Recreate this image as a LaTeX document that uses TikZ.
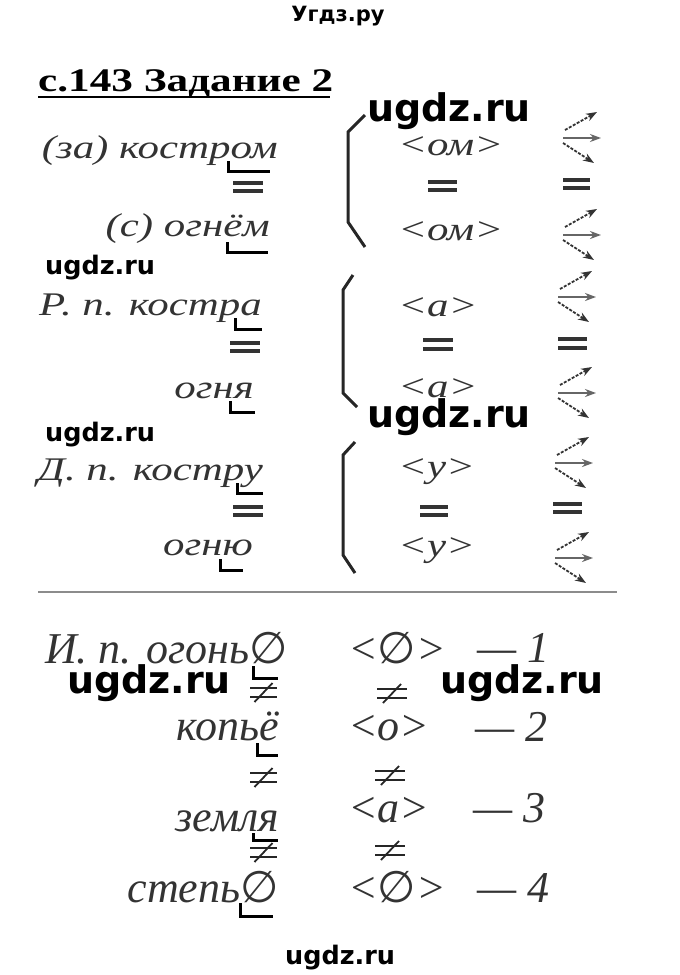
\documentclass[tikz,border=0pt]{standalone}
\usepackage{fontspec}
\usetikzlibrary{arrows.meta}
\newfontfamily\hdrfont[FakeStretch=1.31]{Liberation Serif}
\newfontfamily\upfont[FakeStretch=1.3]{Liberation Serif}
\newfontfamily\lowfont{Liberation Serif}
\newfontfamily\wmfont{DejaVu Sans}
\newfontfamily\symfont{DejaVu Sans}
\definecolor{ink}{gray}{0.2}
\tikzset{
  wm/.style={font=\wmfont\bfseries\fontsize{38}{40}\selectfont, inner sep=0, anchor=base west, text=black},
  wms/.style={font=\wmfont\bfseries\fontsize{25.5}{27}\selectfont, inner sep=0, anchor=base west, text=black},
  up/.style={font=\upfont\itshape\fontsize{33}{36}\selectfont, text=ink, inner sep=0},
  low/.style={font=\lowfont\itshape\fontsize{44}{48}\selectfont, text=ink, inner sep=0},
  endmark/.style={line width=3pt, black},
  brace/.style={line width=3pt, black!85, line join=miter},
  eqbar/.style={line width=3.5pt, black!80},
  neqbar/.style={line width=2.8pt, black!85},
  fan/.style={line width=1.8pt, black!80, -{Stealth[length=11pt,width=8pt]}},
  fand/.style={fan, dash pattern=on 3pt off 1.5pt},
}
\newcommand\eqmark[4]{\draw[eqbar] (#1,#3) -- (#2,#3) (#1,#4) -- (#2,#4);}
\newcommand\neqmark[4]{\draw[neqbar] (#1,#3) -- (#2,#3) (#1,#4) -- (#2,#4);
  \draw[neqbar, line width=1.8pt] ({(#1+#2)/2+9},{#3-5}) -- ({(#1+#2)/2-9},{#4+5});}
\newcommand\fanmark[2]{%
  \draw[fand] ({#1+2},{#2-8}) -- ({#1+34},{#2-26});
  \draw[fan, black!60] (#1,#2) -- ({#1+38},#2);
  \draw[fand] (#1,{#2+5}) -- ({#1+31},{#2+25});}
\begin{document}
\begin{tikzpicture}[x=1pt,y=-1pt]
\useasboundingbox[fill=white] (0,0) rectangle (680,975);

% header
\node[font=\hdrfont\bfseries\fontsize{33}{36}\selectfont, inner sep=0, anchor=base west] (hdr) at (38,91) {с.143 Задание 2};
\draw[line width=2.5pt] (38,97) -- (330,97);

% group 1
\node[up, anchor=base east] (w1) at (278,158) {(за) костром};
\draw[endmark] (228,161) -- (228,171) -- (270,171);
\eqmark{233}{263}{183}{191}
\node[up, anchor=base east] (w2) at (270,236) {(с) огнём};
\draw[endmark] (227,242) -- (227,252) -- (268,252);
\draw[brace] (365,115) -- (348,132) -- (348,222) -- (365,247);
\node[up, anchor=base west] (e1) at (398,155) {<ом>};
\eqmark{428}{457}{182}{190}
\node[up, anchor=base west] (e2) at (398,240) {<ом>};
\fanmark{563}{138}
\eqmark{563}{590}{180}{188}
\fanmark{563}{235}

% group 2
\node[up, anchor=base east] (w3) at (262,315) {Р. п. костра};
\draw[endmark] (235,318) -- (235,329) -- (262,329);
\eqmark{230}{260}{343}{351}
\node[up, anchor=base east] (w4) at (254,398) {огня};
\draw[endmark] (230,401) -- (230,412) -- (255,412);
\draw[brace] (353,275) -- (343,290) -- (343,393) -- (357,407);
\node[up, anchor=base west] (e3) at (398,316) {<а>};
\eqmark{423}{453}{340}{349}
\node[up, anchor=base west] (e4) at (398,397) {<а>};
\fanmark{558}{297}
\eqmark{558}{587}{339}{348}
\fanmark{558}{393}

% group 3
\node[up, anchor=base east] (w5) at (263,480) {Д. п. костру};
\draw[endmark] (237,483) -- (237,493) -- (263,493);
\eqmark{233}{263}{507}{515}
\node[up, anchor=base east] (w6) at (253,555) {огню};
\draw[endmark] (220,559) -- (220,570) -- (243,570);
\draw[brace] (355,442) -- (343,455) -- (343,555) -- (355,573);
\node[up, anchor=base west] (e5) at (398,477) {<у>};
\eqmark{420}{448}{507}{515}
\node[up, anchor=base west] (e6) at (398,556) {<у>};
\fanmark{555}{463}
\eqmark{553}{582}{504}{512}
\fanmark{555}{558}

% separator
\draw[line width=2pt, black!45] (38,592) -- (617,592);

% lower section
\node[low, anchor=base east] (l1) at (288,663) {И. п. огонь{\symfont\upshape ∅}};
\draw[endmark] (253,666) -- (253,678) -- (278,678);
\neqmark{250}{277}{688}{697}
\node[low, anchor=base east] (l2) at (279,740) {копьё};
\draw[endmark] (257,743) -- (257,755) -- (278,755);
\neqmark{250}{277}{773}{782}
\node[low, anchor=base east] (l3) at (279,831) {земля};
\draw[endmark] (253,833) -- (253,840) -- (278,840);
\neqmark{250}{277}{848}{857}
\node[low, anchor=base east] (l4) at (279,902) {степь{\symfont\upshape ∅}};
\draw[endmark] (240,903) -- (240,916) -- (273,916);

\node[low, anchor=base west] (r1) at (348,663) {<{\symfont\upshape ∅}>};
\neqmark{377}{407}{689}{698}
\node[low, anchor=base west] (r2) at (348,740) {<о>};
\neqmark{375}{405}{771}{780}
\node[low, anchor=base west] (r3) at (348,822) {<а>};
\neqmark{375}{405}{846}{855}
\node[low, anchor=base west] (r4) at (348,902) {<{\symfont\upshape ∅}>};

\node[low, anchor=base west] (n1) at (477,662) {— 1};
\node[low, anchor=base west] (n2) at (475,741) {— 2};
\node[low, anchor=base west] (n3) at (473,822) {— 3};
\node[low, anchor=base west] (n4) at (477,902) {— 4};

% watermarks
\node[font=\wmfont\bfseries\fontsize{21}{23}\selectfont, inner sep=0, anchor=base] (wt) at (338,21) {Угдз.ру};
\node[wm] (wb1) at (367,121) {ugdz.ru};
\node[wm] (wb2) at (367,427) {ugdz.ru};
\node[wm] (wb3) at (67,693) {ugdz.ru};
\node[wm] (wb4) at (440,693) {ugdz.ru};
\node[wms] (ws1) at (45,274) {ugdz.ru};
\node[wms] (ws2) at (45,441) {ugdz.ru};
\node[wms] (ws3) at (285,964) {ugdz.ru};
\end{tikzpicture}
\end{document}
